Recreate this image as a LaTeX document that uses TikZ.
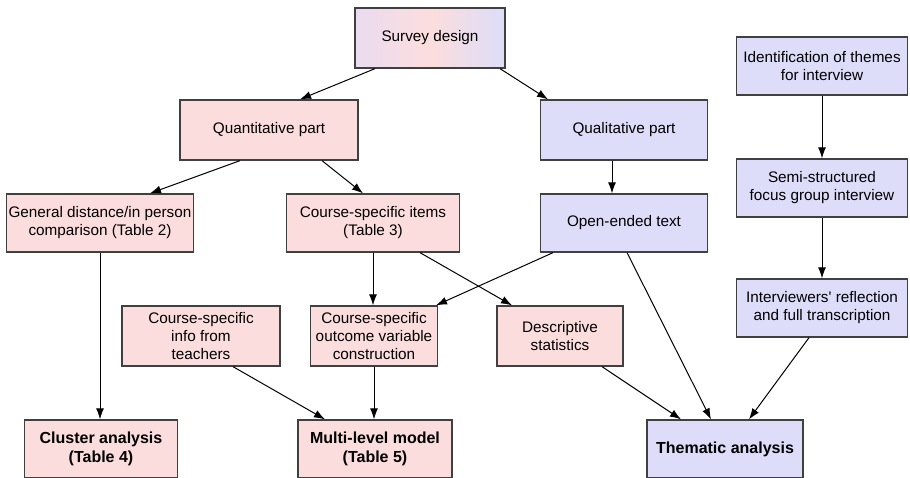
\documentclass[tikz,border=0pt]{standalone}
\usepackage{fontspec}
\setmainfont{Liberation Sans}
\usetikzlibrary{positioning, calc, arrows.meta}
\definecolor{quantfill}{RGB}{252, 221, 221}
\definecolor{qualfill}{RGB}{221, 221, 250}
\definecolor{mixfill}{RGB}{234, 220, 240}
\definecolor{edge}{RGB}{64, 64, 64}

\begin{document}
\begin{tikzpicture}[x=1pt, y=-1pt,
        font=\fontsize{15.3}{18}\selectfont,
        box/.style={draw=edge, line width=1.3pt, align=center, inner sep=2pt, minimum height=58pt},
        quantbox/.style={box, fill=quantfill},
        qualbox/.style={box, fill=qualfill},
        endbox/.style={font=\fontsize{16}{19}\selectfont\bfseries},
        arr/.style={-{Latex[length=11pt, width=8pt]}, line width=1pt, color=black}]

        \useasboundingbox (0,0) rectangle (910,478);

        % Top
        \node[box, minimum width=150pt, minimum height=60pt, left color=mixfill, right color=qualfill, middle color=quantfill]
            (survey) at (430,38) {Survey design};

        \node[quantbox, minimum width=178pt, minimum height=60pt] (quant) at (269,130) {Quantitative part};
        \node[qualbox, minimum width=167pt, minimum height=60pt] (qual) at (624,130) {Qualitative part};

        % Quantitative side
        \node[quantbox, minimum width=185pt] (general) at (100,223) {General distance/in person\\comparison (Table 2)};
        \node[quantbox, minimum width=173pt] (items) at (373,223) {Course-specific items\\(Table 3)};

        \node[quantbox, minimum width=158pt, minimum height=60pt] (info) at (201,336) {Course-specific\\info from\\teachers};
        \node[quantbox, minimum width=127pt, minimum height=60pt] (outcome) at (374,336) {Course-specific\\outcome variable\\construction};
        \node[quantbox, minimum width=126pt, minimum height=60pt] (descr) at (560,336) {Descriptive\\statistics};

        \node[quantbox, endbox, minimum width=153pt] (cluster) at (101,449) {Cluster analysis\\(Table 4)};
        \node[quantbox, endbox, minimum width=154pt] (multi) at (375,449) {Multi-level model\\(Table 5)};

        % Qualitative side
        \node[qualbox, minimum width=167pt] (opentext) at (624,223) {Open-ended text};

        \node[qualbox, minimum width=171pt] (themes) at (822,66) {Identification of themes\\for interview};
        \node[qualbox, minimum width=171pt] (semi) at (822,188) {Semi-structured\\focus group interview};
        \node[qualbox, minimum width=171pt] (reflect) at (822,308) {Interviewers\textquotesingle\ reflection\\and full transcription};

        \node[qualbox, endbox, minimum width=156pt] (thematic) at (725,449) {Thematic analysis};

        % Arrows
        \draw[arr] ([xshift=-55pt]survey.south) -- ([xshift=31pt]quant.north);
        \draw[arr] ([xshift=70pt]survey.south) -- ([xshift=-76pt]qual.north);

        \draw[arr] ([xshift=-29pt]quant.south) -- ([xshift=50pt]general.north);
        \draw[arr] ([xshift=53pt]quant.south) -- ([xshift=-10pt]items.north);
        \draw[arr] ([xshift=-12pt]qual.south) -- ([xshift=-12pt]opentext.north);

        \draw[arr] (themes.south) -- (semi.north);
        \draw[arr] (semi.south) -- (reflect.north);

        \draw[arr] (general.south) -- (general.south |- cluster.north);
        \draw[arr] (items.south) -- (items.south |- outcome.north);
        \draw[arr] ([xshift=47pt]items.south) -- ([xshift=-48pt]descr.north);
        \draw[arr] ([xshift=-71pt]opentext.south) -- ([xshift=62pt]outcome.north);
        \draw[arr] ([xshift=3pt]opentext.south) -- ([xshift=-14pt]thematic.north);

        \draw[arr] ([xshift=32pt]info.south) -- ([xshift=-50pt]multi.north);
        \draw[arr] (outcome.south) -- (outcome.south |- multi.north);
        \draw[arr] ([xshift=42pt]descr.south) -- ([xshift=-44pt]thematic.north);
        \draw[arr] ([xshift=-13pt]reflect.south) -- ([xshift=24pt]thematic.north);

\end{tikzpicture}
\end{document}
